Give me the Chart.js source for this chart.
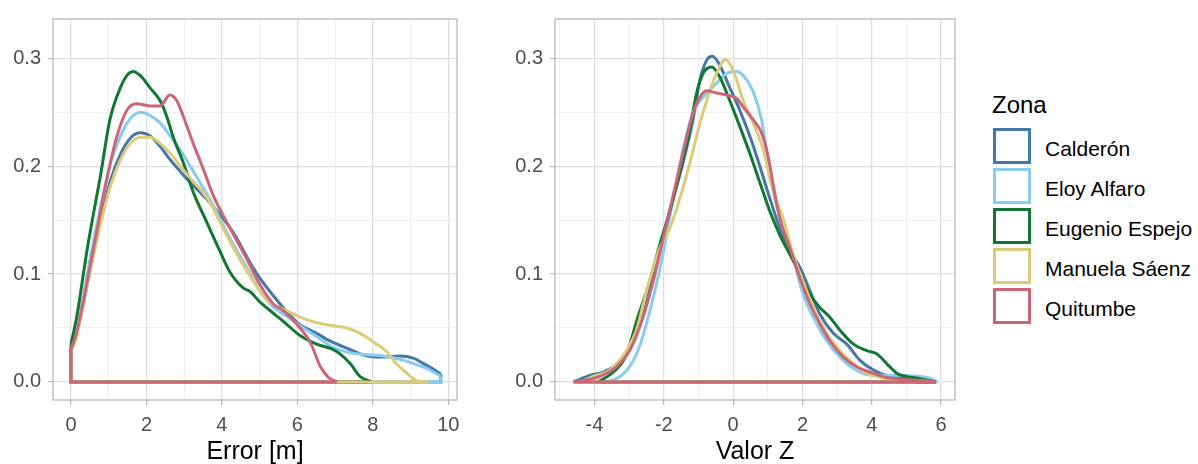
<!DOCTYPE html>
<html>
<head>
<meta charset="utf-8">
<script src="https://cdn.jsdelivr.net/npm/chart.js@4"></script>
<style>
  body { margin: 0; background: #fff; font-family: "Liberation Sans", Arial, sans-serif; }
  #wrap { position: relative; width: 1198px; height: 464px; overflow: hidden; }
  canvas { position: absolute; top: 0; }
  .legTitle { position: absolute; left: 992px; top: 91px; font-size: 24px; line-height: 28px; color: #000; }
  .key { position: absolute; left: 993px; width: 38px; height: 36px; box-sizing: border-box; border: 3.5px solid; background: #fff; }
  .lab { position: absolute; left: 1045px; font-size: 21px; line-height: 24px; color: #000; white-space: nowrap; }
</style>
</head>
<body>
<div id="wrap">
  <canvas id="errorChart" width="470" height="464" style="left:0px"></canvas>
  <canvas id="zChart" width="470" height="464" style="left:500px"></canvas>
  <div id="legend"></div>
</div>
<script>
var zonas = ['Calderón', 'Eloy Alfaro', 'Eugenio Espejo', 'Manuela Sáenz', 'Quitumbe'];
var colores = ['#4477AA', '#88CCEE', '#117733', '#DDCC77', '#CC6677'];

// density curves, Error [m]  ([x, density])
var errCalderon = [[0,0.030],[0.15,0.045],[0.3,0.068],[0.51,0.104],[0.78,0.148],[1.04,0.186],[1.31,0.211],[1.57,0.226],[1.84,0.231],[2.1,0.228],[2.37,0.218],[2.63,0.206],[2.9,0.195],[3.16,0.185],[3.42,0.176],[3.69,0.166],[3.95,0.155],[4.31,0.138],[4.74,0.111],[5.01,0.096],[5.27,0.084],[5.72,0.065],[6.07,0.053],[6.51,0.045],[6.86,0.038],[7.4,0.030],[7.75,0.025],[8.28,0.023],[8.72,0.024],[9.07,0.022],[9.34,0.017],[9.6,0.012],[9.8,0.007]];
var errEloy = [[0,0.030],[0.15,0.047],[0.3,0.074],[0.51,0.115],[0.78,0.162],[1.04,0.202],[1.31,0.228],[1.57,0.244],[1.84,0.250],[2.1,0.247],[2.37,0.240],[2.63,0.228],[2.9,0.215],[3.16,0.200],[3.42,0.185],[3.69,0.169],[3.95,0.151],[4.31,0.127],[4.66,0.106],[5.01,0.084],[5.37,0.069],[5.72,0.061],[6.07,0.052],[6.51,0.042],[6.95,0.032],[7.4,0.027],[7.93,0.025],[8.28,0.024],[8.72,0.021],[9.16,0.016],[9.51,0.011],[9.8,0.005]];
var errEspejo = [[0,0.035],[0.15,0.060],[0.42,0.121],[0.59,0.155],[0.78,0.191],[1.03,0.243],[1.31,0.273],[1.5,0.285],[1.65,0.288],[1.84,0.284],[2.09,0.273],[2.36,0.261],[2.54,0.246],[2.71,0.227],[2.98,0.203],[3.24,0.176],[3.6,0.148],[3.95,0.121],[4.21,0.102],[4.57,0.087],[4.74,0.084],[5.01,0.074],[5.28,0.066],[5.63,0.056],[6.07,0.043],[6.51,0.035],[6.95,0.030],[7.13,0.026],[7.4,0.017],[7.66,0.005],[7.97,0]];
var errSaenz = [[0,0.028],[0.15,0.042],[0.3,0.068],[0.51,0.104],[0.78,0.146],[1.04,0.181],[1.31,0.206],[1.57,0.221],[1.84,0.227],[2.1,0.227],[2.37,0.221],[2.63,0.212],[2.9,0.200],[3.16,0.189],[3.42,0.179],[3.69,0.166],[3.95,0.148],[4.31,0.124],[4.66,0.103],[5.01,0.084],[5.27,0.074],[5.72,0.066],[6.07,0.060],[6.51,0.055],[6.95,0.052],[7.31,0.050],[7.66,0.045],[8.1,0.035],[8.37,0.028],[8.54,0.020],[8.9,0.008],[9.18,0.001],[9.45,0]];
var errQuitumbe = [[0,0.030],[0.15,0.046],[0.3,0.070],[0.42,0.092],[0.68,0.139],[0.95,0.188],[1.21,0.227],[1.48,0.252],[1.74,0.258],[2.09,0.256],[2.36,0.256],[2.62,0.266],[2.8,0.261],[2.98,0.246],[3.24,0.221],[3.51,0.197],[3.77,0.173],[4.13,0.148],[4.66,0.114],[5.01,0.090],[5.37,0.072],[5.63,0.066],[6.07,0.050],[6.35,0.036],[6.61,0.014],[6.83,0.004],[7.05,0]];

// density curves, Valor Z
var zCalderon = [[-4.6,0],[-4.14,0.006],[-3.75,0.009],[-3.37,0.016],[-2.99,0.029],[-2.59,0.063],[-2.31,0.100],[-2.02,0.136],[-1.73,0.170],[-1.45,0.203],[-1.16,0.243],[-0.96,0.280],[-0.77,0.298],[-0.6,0.302],[-0.39,0.294],[-0.1,0.273],[0.19,0.252],[0.48,0.228],[0.77,0.200],[1.06,0.170],[1.35,0.142],[1.64,0.121],[1.93,0.106],[2.22,0.084],[2.5,0.063],[2.89,0.045],[3.28,0.035],[3.66,0.020],[4.05,0.011],[4.43,0.006],[5.0,0.004],[5.4,0.001],[5.6,0]];
var zEloy = [[-3.8,0],[-3.37,0.003],[-2.99,0.014],[-2.7,0.033],[-2.41,0.065],[-2.12,0.104],[-1.93,0.135],[-1.64,0.185],[-1.45,0.215],[-1.16,0.250],[-0.87,0.264],[-0.48,0.277],[-0.19,0.286],[0.1,0.288],[0.3,0.284],[0.58,0.269],[0.82,0.243],[0.96,0.215],[1.16,0.176],[1.45,0.142],[1.73,0.115],[2.02,0.081],[2.31,0.060],[2.7,0.038],[3.08,0.023],[3.47,0.0125],[3.95,0.0064],[4.9,0.006],[5.59,0.004],[5.87,0.001]];
var zEspejo = [[-3.9,0],[-3.5,0.008],[-3.1,0.024],[-2.75,0.060],[-2.41,0.093],[-2.12,0.127],[-1.83,0.158],[-1.54,0.194],[-1.25,0.234],[-1.06,0.267],[-0.87,0.286],[-0.62,0.292],[-0.39,0.283],[-0.1,0.261],[0.19,0.237],[0.48,0.212],[0.77,0.185],[1.06,0.158],[1.35,0.136],[1.64,0.118],[1.93,0.100],[2.22,0.081],[2.5,0.069],[2.79,0.060],[3.08,0.048],[3.47,0.035],[3.85,0.029],[4.14,0.026],[4.43,0.017],[4.72,0.008],[5.0,0.005],[5.39,0.003],[5.85,0]];
var zSaenz = [[-4.4,0],[-4.04,0.005],[-3.56,0.011],[-3.08,0.029],[-2.79,0.048],[-2.5,0.084],[-2.12,0.124],[-1.83,0.142],[-1.54,0.170],[-1.25,0.203],[-0.96,0.240],[-0.67,0.270],[-0.48,0.286],[-0.22,0.299],[0,0.289],[0.29,0.261],[0.58,0.240],[0.87,0.215],[1.16,0.176],[1.45,0.151],[1.73,0.118],[2.02,0.093],[2.31,0.069],[2.7,0.045],[3.08,0.029],[3.47,0.017],[3.85,0.008],[4.43,0.003],[5.0,0.001],[5.3,0]];
var zQuitumbe = [[-4.6,0],[-4.2,0.002],[-3.85,0.005],[-3.37,0.014],[-2.99,0.029],[-2.6,0.060],[-2.31,0.093],[-2.02,0.133],[-1.73,0.173],[-1.45,0.212],[-1.16,0.249],[-0.96,0.264],[-0.77,0.270],[-0.48,0.268],[-0.19,0.266],[0.1,0.263],[0.29,0.255],[0.58,0.243],[0.82,0.231],[1.01,0.209],[1.16,0.182],[1.35,0.151],[1.64,0.124],[1.93,0.096],[2.22,0.072],[2.5,0.054],[2.79,0.038],[3.18,0.023],[3.56,0.014],[4.05,0.008],[4.43,0.004],[5.0,0.002],[5.59,0.001],[5.85,0]];

// axis ticks (labelled ones); minor grid lines go halfway between
var errTicks = [0, 2, 4, 6, 8, 10];
var zTicks = [-4, -2, 0, 2, 4, 6];
var densTicks = [0, 0.1, 0.2, 0.3];

var FONT = '"Liberation Sans", Arial, sans-serif';
var LINE_W = 3;

function withMinors(majors, lo, hi) {
    var step = majors[1] - majors[0];
    var all = [];
    for (var v = majors[0] - step; v <= majors[majors.length - 1] + step + 1e-9; v += step / 2) {
        var r = Math.round(v * 1000) / 1000;
        if (r >= lo && r <= hi) all.push(r);
    }
    return all;
}

function isMajor(v, majors) {
    return majors.some(function(m) { return Math.abs(m - v) < 1e-6; });
}

function toXY(points) {
    return points.map(function(p) { return {x: p[0], y: p[1]}; });
}

// geom_density outline is closed: down from the last point, back along y = 0, up to the first
function closing(points) {
    var first = points[0], last = points[points.length - 1];
    return toXY([last, [last[0], 0], [first[0], 0], first]);
}

function gridOpts(majors) {
    return {
        color: function(c) { return isMajor(c.tick.value, majors) ? '#dedede' : '#ebebeb'; },
        lineWidth: function(c) { return isMajor(c.tick.value, majors) ? 1.3 : 0.8; },
        tickColor: function(c) { return isMajor(c.tick.value, majors) ? '#b3b3b3' : 'rgba(0,0,0,0)'; },
        tickWidth: 1.1,
        tickLength: 5
    };
}

var panelBorder = {
    id: 'panelBorder',
    afterDraw: function(chart) {
        var a = chart.chartArea, ctx = chart.ctx;
        ctx.save();
        ctx.strokeStyle = '#b3b3b3';
        ctx.lineWidth = 1.2;
        ctx.strokeRect(a.left, a.top, a.right - a.left, a.bottom - a.top);
        ctx.restore();
    }
};

function makePanel(canvasId, series, xMajors, xMin, xMax, title, yWidth, padRight) {
    var datasets = [];
    series.forEach(function(s, i) {
        var lvl = 2 * (series.length - i);   // Quitumbe drawn last, on top
        datasets.push({
            label: zonas[i],
            data: toXY(s),
            showLine: true,
            borderColor: colores[i],
            borderWidth: LINE_W,
            pointRadius: 0,
            cubicInterpolationMode: 'monotone',
            order: lvl
        });
        datasets.push({
            label: zonas[i] + ' base',
            data: closing(s),
            showLine: true,
            borderColor: colores[i],
            borderWidth: LINE_W,
            pointRadius: 0,
            tension: 0,
            order: lvl - 1
        });
    });
    var xAll = withMinors(xMajors, xMin, xMax);
    var yAll = withMinors(densTicks, -0.0168, 0.3366);

    return new Chart(document.getElementById(canvasId).getContext('2d'), {
        type: 'scatter',
        data: {datasets: datasets},
        plugins: [panelBorder],
        options: {
            responsive: false,
            animation: false,
            layout: {padding: {top: 14, right: padRight, bottom: 0, left: 0}},
            plugins: {legend: {display: false}, tooltip: {enabled: false}},
            scales: {
                x: {
                    type: 'linear',
                    min: xMin,
                    max: xMax,
                    afterBuildTicks: function(s) { s.ticks = xAll.map(function(v) { return {value: v}; }); },
                    afterFit: function(s) { s.height = 64; },
                    grid: gridOpts(xMajors),
                    border: {display: false},
                    ticks: {
                        autoSkip: false,
                        maxRotation: 0,
                        padding: 8,
                        color: '#4d4d4d',
                        font: {family: FONT, size: 20},
                        callback: function(v) { return isMajor(v, xMajors) ? String(Math.round(v)) : ''; }
                    },
                    title: {
                        display: true,
                        text: title,
                        color: '#000',
                        padding: {top: 0, bottom: -3},
                        font: {family: FONT, size: 25}
                    }
                },
                y: {
                    type: 'linear',
                    min: -0.0168,
                    max: 0.3366,
                    afterBuildTicks: function(s) { s.ticks = yAll.map(function(v) { return {value: v}; }); },
                    afterFit: function(s) { s.width = yWidth; },
                    grid: gridOpts(densTicks),
                    border: {display: false},
                    ticks: {
                        autoSkip: false,
                        padding: 7,
                        color: '#4d4d4d',
                        font: {family: FONT, size: 20},
                        callback: function(v) { return isMajor(v, densTicks) ? v.toFixed(1) : ''; }
                    }
                }
            }
        }
    });
}

makePanel('errorChart', [errCalderon, errEloy, errEspejo, errSaenz, errQuitumbe],
    errTicks, -0.477, 10.23, 'Error [m]', 53, 13);
makePanel('zChart', [zCalderon, zEloy, zEspejo, zSaenz, zQuitumbe],
    zTicks, -5.14, 6.40, 'Valor Z', 55, 15);

// legend "Zona"
var leg = document.getElementById('legend');
var html = '<div class="legTitle">Zona</div>';
for (var i = 0; i < zonas.length; i++) {
    html += '<div class="key" style="top:' + (128 + 40 * i) + 'px;border-color:' + colores[i] + '"></div>';
    html += '<div class="lab" style="top:' + (137 + 40 * i) + 'px">' + zonas[i] + '</div>';
}
leg.innerHTML = html;
</script>
</body>
</html>
